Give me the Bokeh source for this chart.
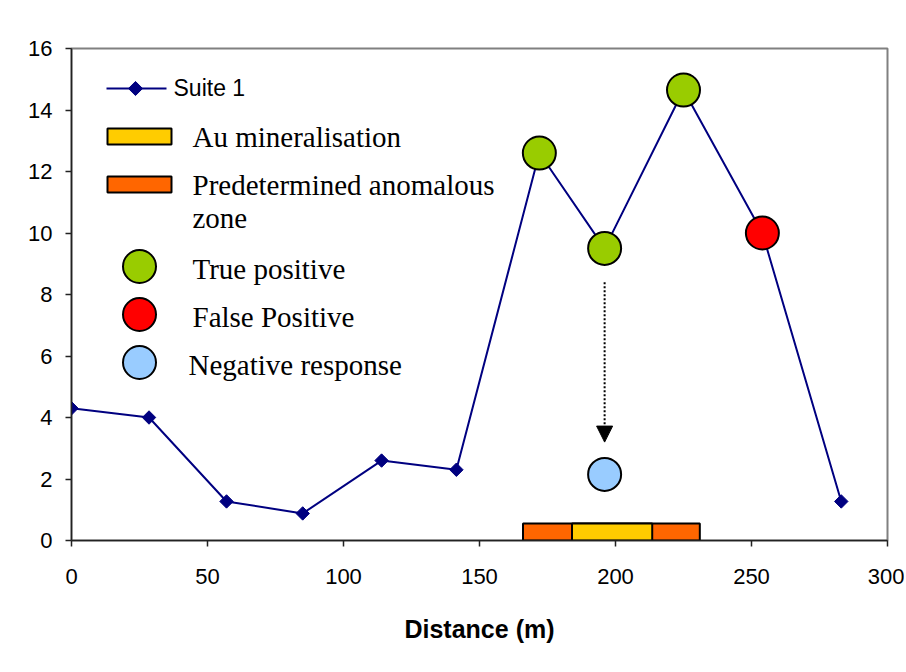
from bokeh.plotting import figure
from bokeh.models import Range1d, FixedTicker, Arrow, NormalHead
from bokeh.embed import file_html
from bokeh.resources import INLINE
from bokeh.core.properties import value
import math

# ---------------- data ----------------
distance = [0, 28.5, 57, 85, 114, 141.5, 172, 196, 225, 254, 283]
suite1 = [4.3, 4.0, 1.27, 0.88, 2.6, 2.3, 12.6, 9.5, 14.65, 10.0, 1.27]

true_pos_x = [172, 196, 225]
true_pos_y = [12.6, 9.5, 14.65]
false_pos_x = [254]
false_pos_y = [10.0]
negative_x = [196]
negative_y = [2.15]

anomalous_start = [166]
anomalous_end = [231]
au_start = [184]
au_end = [213.5]

arrow_x = 196
arrow_from = 8.4
arrow_to = 3.2

x_ticks = [0, 50, 100, 150, 200, 250, 300]
y_ticks = [0, 2, 4, 6, 8, 10, 12, 14, 16]

legend_labels = ["Suite 1", "Au mineralisation", "Predetermined anomalous\nzone",
                 "True positive", "False Positive", "Negative response"]

# ---------------- styles ----------------
NAVY = "#000080"
GREEN = "#99CC00"
RED = "#FF0000"
BLUE = "#99CCFF"
ORANGE = "#FF6600"
YELLOW = "#FFCC00"
BAR_H = 0.55

FW, FH = 816, 492
OX, OY = 71, 48  # frame origin on the page

p = figure(width=904, height=668, frame_width=FW, frame_height=FH,
           x_range=Range1d(0, 300), y_range=Range1d(0, 16),
           output_backend="svg", toolbar_location=None,
           min_border_left=OX, min_border_right=17, min_border_top=OY, min_border_bottom=128)
p.extra_x_ranges = {"px": Range1d(0, FW)}
p.extra_y_ranges = {"py": Range1d(FH, 0)}

p.background_fill_color = "white"
p.border_fill_color = "white"
p.outline_line_color = "#808080"
p.outline_line_width = 2
p.xgrid.visible = False
p.ygrid.visible = False

for ax in (p.xaxis[0], p.yaxis[0]):
    ax.axis_line_color = "#222222"
    ax.axis_line_width = 1.5
    ax.major_tick_line_color = "#222222"
    ax.major_tick_line_width = 1.5
    ax.major_tick_out = 6
    ax.major_tick_in = 0
    ax.minor_tick_out = 0
    ax.minor_tick_in = 0
    ax.major_label_text_font = "Liberation Sans"
    ax.major_label_text_font_size = "22px"
    ax.major_label_text_color = "black"

p.xaxis.ticker = FixedTicker(ticks=x_ticks)
p.yaxis.ticker = FixedTicker(ticks=y_ticks)
p.xaxis.major_label_standoff = 22
p.yaxis.major_label_standoff = 13
p.xaxis.axis_label = "Distance (m)"
p.xaxis.axis_label_text_font = "Liberation Sans"
p.xaxis.axis_label_text_font_style = "bold"
p.xaxis.axis_label_text_font_size = "25px"
p.xaxis.axis_label_text_color = "black"
p.xaxis.axis_label_standoff = 28

# ---------------- zone bars ----------------
p.quad(left=anomalous_start, right=anomalous_end, bottom=[0], top=[BAR_H],
       fill_color=ORANGE, line_color="black", line_width=2)
p.quad(left=au_start, right=au_end, bottom=[0], top=[BAR_H],
       fill_color=YELLOW, line_color="black", line_width=2)

# ---------------- series ----------------
p.line(distance, suite1, line_color=NAVY, line_width=2)
p.scatter(distance, suite1, marker="square", angle=math.pi / 4, size=9.5,
          fill_color=NAVY, line_color=NAVY)

# ---------------- arrow ----------------
p.add_layout(Arrow(end=NormalHead(size=16, fill_color="black", line_color="black", line_width=1),
                   x_start=arrow_x, y_start=arrow_from, x_end=arrow_x, y_end=arrow_to,
                   line_dash="2 2", line_width=2, line_color="black"))

# ---------------- response circles ----------------
p.scatter(true_pos_x, true_pos_y, size=33, fill_color=GREEN, line_color="black", line_width=2)
p.scatter(false_pos_x, false_pos_y, size=33, fill_color=RED, line_color="black", line_width=2)
p.scatter(negative_x, negative_y, size=33, fill_color=BLUE, line_color="black", line_width=2)

# ---------------- manual legend (pixel coordinates inside the frame) ----------------
def lx(v):
    return v - OX

def ly(v):
    return v - OY

kw = dict(x_range_name="px", y_range_name="py")
p.line([lx(106), lx(166)], [ly(88), ly(88)], line_color=NAVY, line_width=2, **kw)
p.scatter([lx(135)], [ly(88)], marker="square", angle=math.pi / 4, size=10,
          fill_color=NAVY, line_color=NAVY, **kw)
p.text([lx(173)], [ly(87)], text=[legend_labels[0]], text_font=value("Liberation Sans"),
       text_font_size="23px", text_baseline="alphabetic", text_color="black", **kw)

p.rect([lx(139)], [ly(136)], width=64, height=16, fill_color=YELLOW,
       line_color="black", line_width=2, **kw)
p.rect([lx(139)], [ly(184)], width=64, height=16, fill_color=ORANGE,
       line_color="black", line_width=2, **kw)
p.scatter([lx(139), lx(139), lx(139)], [ly(266), ly(314), ly(362)], size=33,
          fill_color=[GREEN, RED, BLUE], line_color="black", line_width=2, **kw)

serif = dict(text_font=value("Liberation Serif"), text_font_size="29px",
             text_color="black", text_baseline="alphabetic", **kw)
p.text([lx(192)], [ly(136)], text=[legend_labels[1]], **serif)
p.text([lx(192)], [ly(201)], text=[legend_labels[2]], text_line_height=1.05, **serif)
p.text([lx(192)], [ly(268)], text=[legend_labels[3]], **serif)
p.text([lx(192)], [ly(316)], text=[legend_labels[4]], **serif)
p.text([lx(188)], [ly(364)], text=[legend_labels[5]], **serif)

open("out.html", "w").write(file_html(p, INLINE))
